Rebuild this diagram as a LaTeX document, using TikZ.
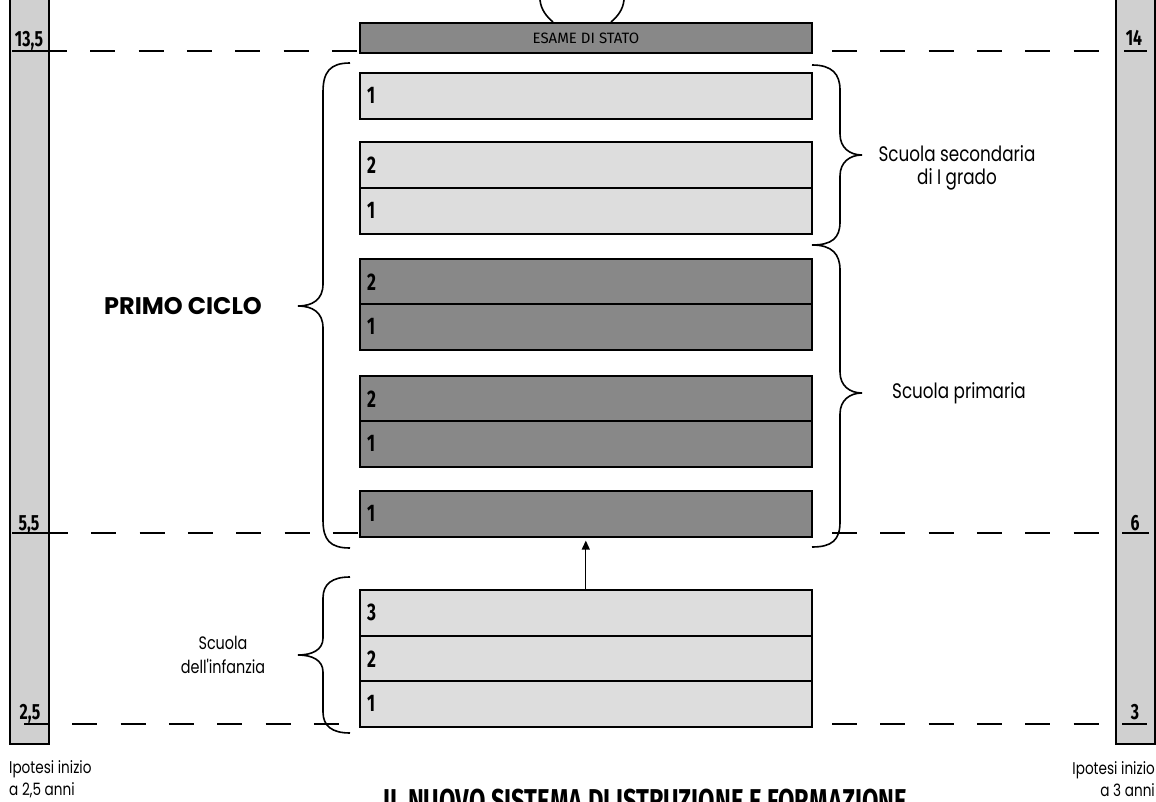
\documentclass[tikz,border=0pt]{standalone}
\usepackage{fontspec}
\setmainfont{Poppins}
\newfontfamily\condfont[FakeStretch=0.72]{Fira Sans}
\newfontfamily\firafont{Fira Sans}
\newfontfamily\labfont[FakeStretch=0.8]{Poppins}
\usetikzlibrary{arrows.meta}
\definecolor{darkfill}{HTML}{888888}
\definecolor{lightfill}{HTML}{DDDDDD}
\definecolor{barfill}{HTML}{D0D0D0}
\begin{document}
\begin{tikzpicture}[x=1pt,y=-1pt,
  cell/.style={draw=black, line width=1.6pt, minimum width=452pt, minimum height=46pt, anchor=north west, inner sep=0pt},
  lcell/.style={cell, fill=lightfill},
  dcell/.style={cell, fill=darkfill},
  num/.style={font=\condfont\bfseries\fontsize{24}{24}\selectfont, anchor=west, inner sep=0pt},
  side/.style={draw=black, line width=1.8pt, fill=barfill, minimum width=39pt, minimum height=760pt, anchor=south west, inner sep=0pt},
  agelab/.style={font=\condfont\bfseries\fontsize{22}{22}\selectfont, inner sep=0pt, anchor=base},
  guide/.style={dash pattern=on 25pt off 23.3pt},
  thickguide/.style={guide, line width=2.6pt},
  thinguide/.style={guide, line width=1.3pt},
  brc/.style={line width=1.6pt},
  lab/.style={font=\labfont\fontsize{21}{23}\selectfont, align=center, inner sep=0pt},
  small/.style={font=\labfont\fontsize{17}{22}\selectfont, inner sep=0pt}
]
\useasboundingbox (0,0) rectangle (1156,802);
\clip (0,0) rectangle (1156,802);

% side bars
\node[side] (lbar) at (9,745) {};
\node[side] (rbar) at (1115,745) {};

% age labels
\node[agelab] (a135) at (29,47) {13,5};
\node[agelab] (a55) at (29,530) {5,5};
\node[agelab] (a25) at (30,719) {2,5};
\node[agelab] (a14) at (1134,46) {14};
\node[agelab] (a6) at (1135,530) {6};
\node[agelab] (a3) at (1135,719) {3};

% underlines
\draw[line width=2.6pt] (12,51) -- (48,51);
\draw[line width=1.3pt] (12,533) -- (48,533);
\draw[line width=2.6pt] (24,724) -- (48,724);
\draw[line width=2.2pt] (1124,51) -- (1147,51);
\draw[line width=1.3pt] (1122,533) -- (1149,533);
\draw[line width=2.2pt] (1122,724) -- (1147,724);

% dashed guide lines
\draw[thickguide] (42,51) -- (358,51);
\draw[thickguide] (832,51) -- (1110,51);
\draw[thinguide] (43,533) -- (358,533);
\draw[thinguide] (832,533) -- (1110,533);
\draw[thickguide] (24,724) -- (345,724);
\draw[thickguide] (832,724) -- (1110,724);

% ESAME DI STATO
\node[cell, fill=darkfill, minimum height=30pt, line width=2pt] (esame) at (359,22) {};
\node[font=\firafont\fontsize{15}{15}\selectfont, inner sep=0pt] at (esame.center) {ESAME DI STATO};

% scuola secondaria (light)
\node[lcell] (s3) at (359,72) {};
\node[lcell] (s2) at (359,141) {};
\node[lcell] (s1) at (359,187) {};
% scuola primaria (dark)
\node[dcell] (p5) at (359,258) {};
\node[dcell] (p4) at (359,303) {};
\node[dcell] (p3) at (359,375) {};
\node[dcell] (p2) at (359,420) {};
\node[dcell] (p1) at (359,490) {};
% scuola dell'infanzia (light)
\node[lcell] (i3) at (359,589) {};
\node[lcell] (i2) at (359,635) {};
\node[lcell] (i1) at (359,680) {};

% numbers
\foreach \c/\n in {s3/1,s2/2,s1/1,p5/2,p4/1,p3/2,p2/1,p1/1,i3/3,i2/2,i1/1}{
  \node[num] at ([xshift=8pt]\c.west) {\n};
}

% arrow
\draw[line width=1.3pt, -{Triangle[length=9pt,width=8pt]}] (i3.north) -- ([yshift=-3pt]p1.south);

% top partial brace
\draw[brc] (540,0) .. controls (541,10) and (547,17) .. (553,22);
\draw[brc] (624,0) .. controls (623,10) and (617,17) .. (611,22);

% PRIMO CICLO brace
\coordinate (pctip) at (298,306);
\draw[brc] (350,63) .. controls (330,63) and (323,72) .. (323,92) -- (323,284)
  .. controls (323,300) and (312,306) .. (pctip)
  .. controls (312,306) and (323,312) .. (323,328) -- (323,520)
  .. controls (323,540) and (330,548) .. (350,548);
\node[font=\bfseries\fontsize{24}{24}\selectfont, inner sep=0pt] (primo) at (183,306) {PRIMO CICLO};

% infanzia brace
\coordinate (intip) at (298,655);
\draw[brc] (350,577) .. controls (332,577) and (323,584) .. (323,598) -- (323,638)
  .. controls (323,650) and (312,655) .. (intip)
  .. controls (312,655) and (323,660) .. (323,672) -- (323,712)
  .. controls (323,726) and (332,733) .. (350,733);
\node[lab, font=\labfont\fontsize{18}{24}\selectfont] (infanzia) at (223,655) {Scuola\\dell'infanzia};

% secondaria brace
\coordinate (sectip) at (862,155);
\draw[brc] (812,65) .. controls (832,65) and (840,74) .. (840,90) -- (840,134)
  .. controls (840,148) and (850,155) .. (sectip)
  .. controls (850,155) and (840,162) .. (840,176) -- (840,222)
  .. controls (840,238) and (832,245) .. (812,245);
\node[lab] (secondaria) at (957,168) {Scuola secondaria\\di I grado};

% primaria brace
\coordinate (primtip) at (862,393);
\draw[brc] (812,245) .. controls (832,245) and (840,254) .. (840,270) -- (840,372)
  .. controls (840,386) and (850,393) .. (primtip)
  .. controls (850,393) and (840,400) .. (840,414) -- (840,522)
  .. controls (840,540) and (832,547) .. (812,547);
\node[lab] (primaria) at (959,393) {Scuola primaria};

% bottom notes
\node[small, anchor=west, align=left] (ipl) at (9,779) {Ipotesi inizio\\a 2,5 anni};
\node[small, anchor=east, align=right] (ipr) at (1155,779) {Ipotesi inizio\\a 3 anni};

% title (cut off at bottom, as in the reference)
\node[font=\condfont\bfseries\fontsize{33}{33}\selectfont, inner sep=0pt, anchor=base] (title) at (645,812) {IL NUOVO SISTEMA DI ISTRUZIONE E FORMAZIONE};
\end{tikzpicture}
\end{document}
